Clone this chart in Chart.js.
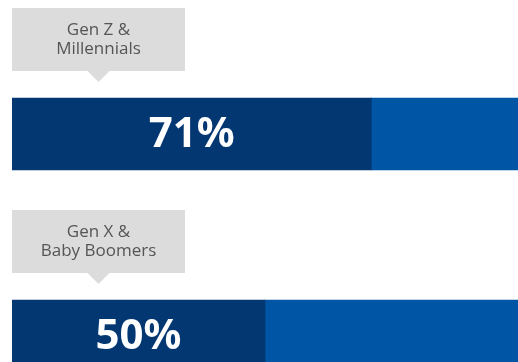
<!DOCTYPE html>
<html>
<head>
<meta charset="utf-8">
<script src="https://cdn.jsdelivr.net/npm/chart.js@4"></script>
<style>
  html, body { margin: 0; padding: 0; background: #fff; overflow: hidden; }
  #wrap { position: relative; width: 518px; height: 440px; }
</style>
</head>
<body>
<div id="wrap"><canvas id="genChart"></canvas></div>
<script>
const categories = [["Gen Z &", "Millennials"], ["Gen X &", "Baby Boomers"]];
const shareValues = [71, 50];
const restValues = [29, 50];

// callout boxes above each bar + big percent labels inside the dark part
const calloutPlugin = {
  id: "callouts",
  afterDatasetsDraw(chart) {
    const ctx = chart.ctx;
    const meta = chart.getDatasetMeta(0);
    meta.data.forEach(function (bar, i) {
      const top = bar.y - bar.height / 2;
      const boxTop = top - 90, boxBottom = top - 27;
      const left = 12, right = 185, mid = (left + right) / 2;
      ctx.save();
      ctx.fillStyle = "#dcdcdc";
      ctx.fillRect(left, boxTop, right - left, boxBottom - boxTop);
      ctx.beginPath();
      ctx.moveTo(mid - 11, boxBottom);
      ctx.lineTo(mid + 11, boxBottom);
      ctx.lineTo(mid, boxBottom + 11);
      ctx.closePath();
      ctx.fill();
      ctx.fillStyle = "#555555";
      ctx.font = "17px 'Open Sans', 'Noto Sans', sans-serif";
      ctx.textAlign = "center";
      ctx.textBaseline = "middle";
      const lines = categories[i];
      ctx.fillText(lines[0], mid, boxTop + 22);
      ctx.fillText(lines[1], mid, boxTop + 41);

      // percent label centred in the dark segment
      ctx.fillStyle = "#ffffff";
      ctx.font = "bold 42px 'Noto Sans', sans-serif";
      ctx.fillText(shareValues[i] + "%", (bar.base + bar.x) / 2, bar.y + 1);
      ctx.restore();
    });
  }
};

const ctx = document.getElementById("genChart").getContext("2d");
new Chart(ctx, {
  type: "bar",
  data: {
    labels: categories.map(function (c) { return c.join(" "); }),
    datasets: [{
      data: shareValues,
      backgroundColor: "#033772",
      barThickness: 72,
      borderSkipped: false
    }, {
      data: restValues,
      backgroundColor: "#0155a5",
      barThickness: 72
    }]
  },
  options: {
    indexAxis: "y",
    responsive: true,
    maintainAspectRatio: false,
    animation: false,
    layout: { padding: { left: 12, right: 0, top: 33, bottom: 3 } },
    plugins: {
      legend: { display: false },
      tooltip: { enabled: false }
    },
    scales: {
      x: { stacked: true, min: 0, max: 100, display: false },
      y: { stacked: true, display: false }
    }
  },
  plugins: [calloutPlugin]
});
</script>
</body>
</html>
